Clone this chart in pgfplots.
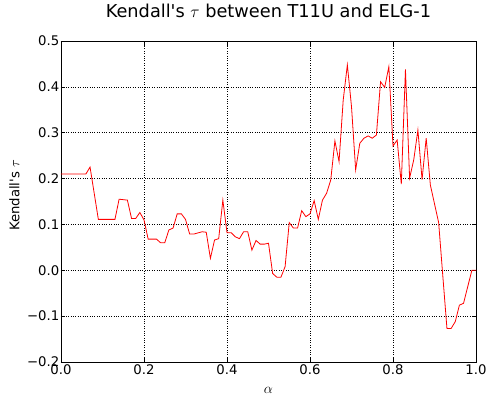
\documentclass[border=0pt]{standalone}
\usepackage{pgfplots}
\pgfplotsset{compat=1.18}
\usepackage{fontspec}
\setmainfont{DejaVu Sans}[Ligatures=TeXOff]
\begin{document}
\begin{tikzpicture}
\path[use as bounding box] (-61bp,-33bp) rectangle (427bp,362bp);
\begin{axis}[
  at={(0,0)}, anchor=south west,
  scale only axis, width=415bp, height=321bp,
  xmin=0, xmax=1, ymin=-0.2, ymax=0.5,
  xtick={0,0.2,0.4,0.6,0.8,1.0},
  xticklabels={0.0,0.2,0.4,0.6,0.8,1.0},
  ytick={-0.2,-0.1,0,0.1,0.2,0.3,0.4,0.5},
  yticklabels={−0.2,−0.1,0.0,0.1,0.2,0.3,0.4,0.5},
  tick align=inside, major tick length=4.5bp,
  tick style={black, line width=0.6bp},
  axis line style={line width=0.8bp},
  grid=major, major grid style={black, dotted, line width=0.5bp},
  ticklabel style={font=\fontsize{13.3}{15}\selectfont},
  yticklabel style={inner sep=1.5bp},
  xticklabel style={inner sep=1.5bp, yshift=-1bp},
  title={Kendall's $\tau$ between T11U and ELG-1},
  title style={font=\fontsize{17.8}{20}\selectfont, at={(axis description cs:0.5,1)}, anchor=base, yshift=18bp},
  xlabel={$\alpha$}, ylabel={Kendall's $\tau$},
  label style={font=\fontsize{13.3}{15}\selectfont},
  xlabel style={at={(axis description cs:0.5,0)}, anchor=base, yshift=-31bp},
  ylabel style={at={(axis description cs:-0.1,0.519)}, anchor=base, rotate=0},
]
\addplot[red, line width=0.8bp, no marks] coordinates {
(0,0.210) (0.06,0.210) (0.07,0.225) (0.09,0.111) (0.13,0.111) (0.14,0.155)
(0.16,0.153) (0.17,0.113) (0.18,0.113) (0.19,0.126) (0.20,0.110) (0.21,0.068)
(0.23,0.068) (0.24,0.060) (0.25,0.060) (0.26,0.088) (0.27,0.092) (0.28,0.123)
(0.29,0.123) (0.30,0.111) (0.31,0.079) (0.32,0.079) (0.34,0.084) (0.35,0.083)
(0.36,0.026) (0.37,0.066) (0.38,0.069) (0.39,0.153) (0.40,0.082) (0.41,0.082)
(0.42,0.073) (0.43,0.069) (0.44,0.084) (0.45,0.084) (0.46,0.044) (0.47,0.065)
(0.48,0.057) (0.49,0.057) (0.50,0.059) (0.51,-0.007) (0.52,-0.015) (0.53,-0.015)
(0.54,0.008) (0.55,0.104) (0.56,0.092) (0.57,0.092) (0.58,0.130) (0.59,0.117)
(0.60,0.123) (0.61,0.152) (0.62,0.111) (0.63,0.153) (0.64,0.168) (0.65,0.197)
(0.66,0.282) (0.67,0.237) (0.68,0.371) (0.69,0.448) (0.70,0.357) (0.71,0.219)
(0.72,0.277) (0.73,0.288) (0.74,0.293) (0.75,0.288) (0.76,0.295) (0.77,0.411)
(0.78,0.399) (0.79,0.444) (0.80,0.271) (0.81,0.284) (0.82,0.188) (0.83,0.438)
(0.84,0.201) (0.85,0.241) (0.86,0.306) (0.87,0.198) (0.88,0.288) (0.89,0.186)
(0.90,0.145) (0.91,0.104) (0.92,-0.012) (0.93,-0.127) (0.94,-0.127) (0.95,-0.112)
(0.96,-0.076) (0.97,-0.072) (0.98,-0.036) (0.99,0.0) (1.0,0.0)
};
\end{axis}
\end{tikzpicture}
\end{document}
